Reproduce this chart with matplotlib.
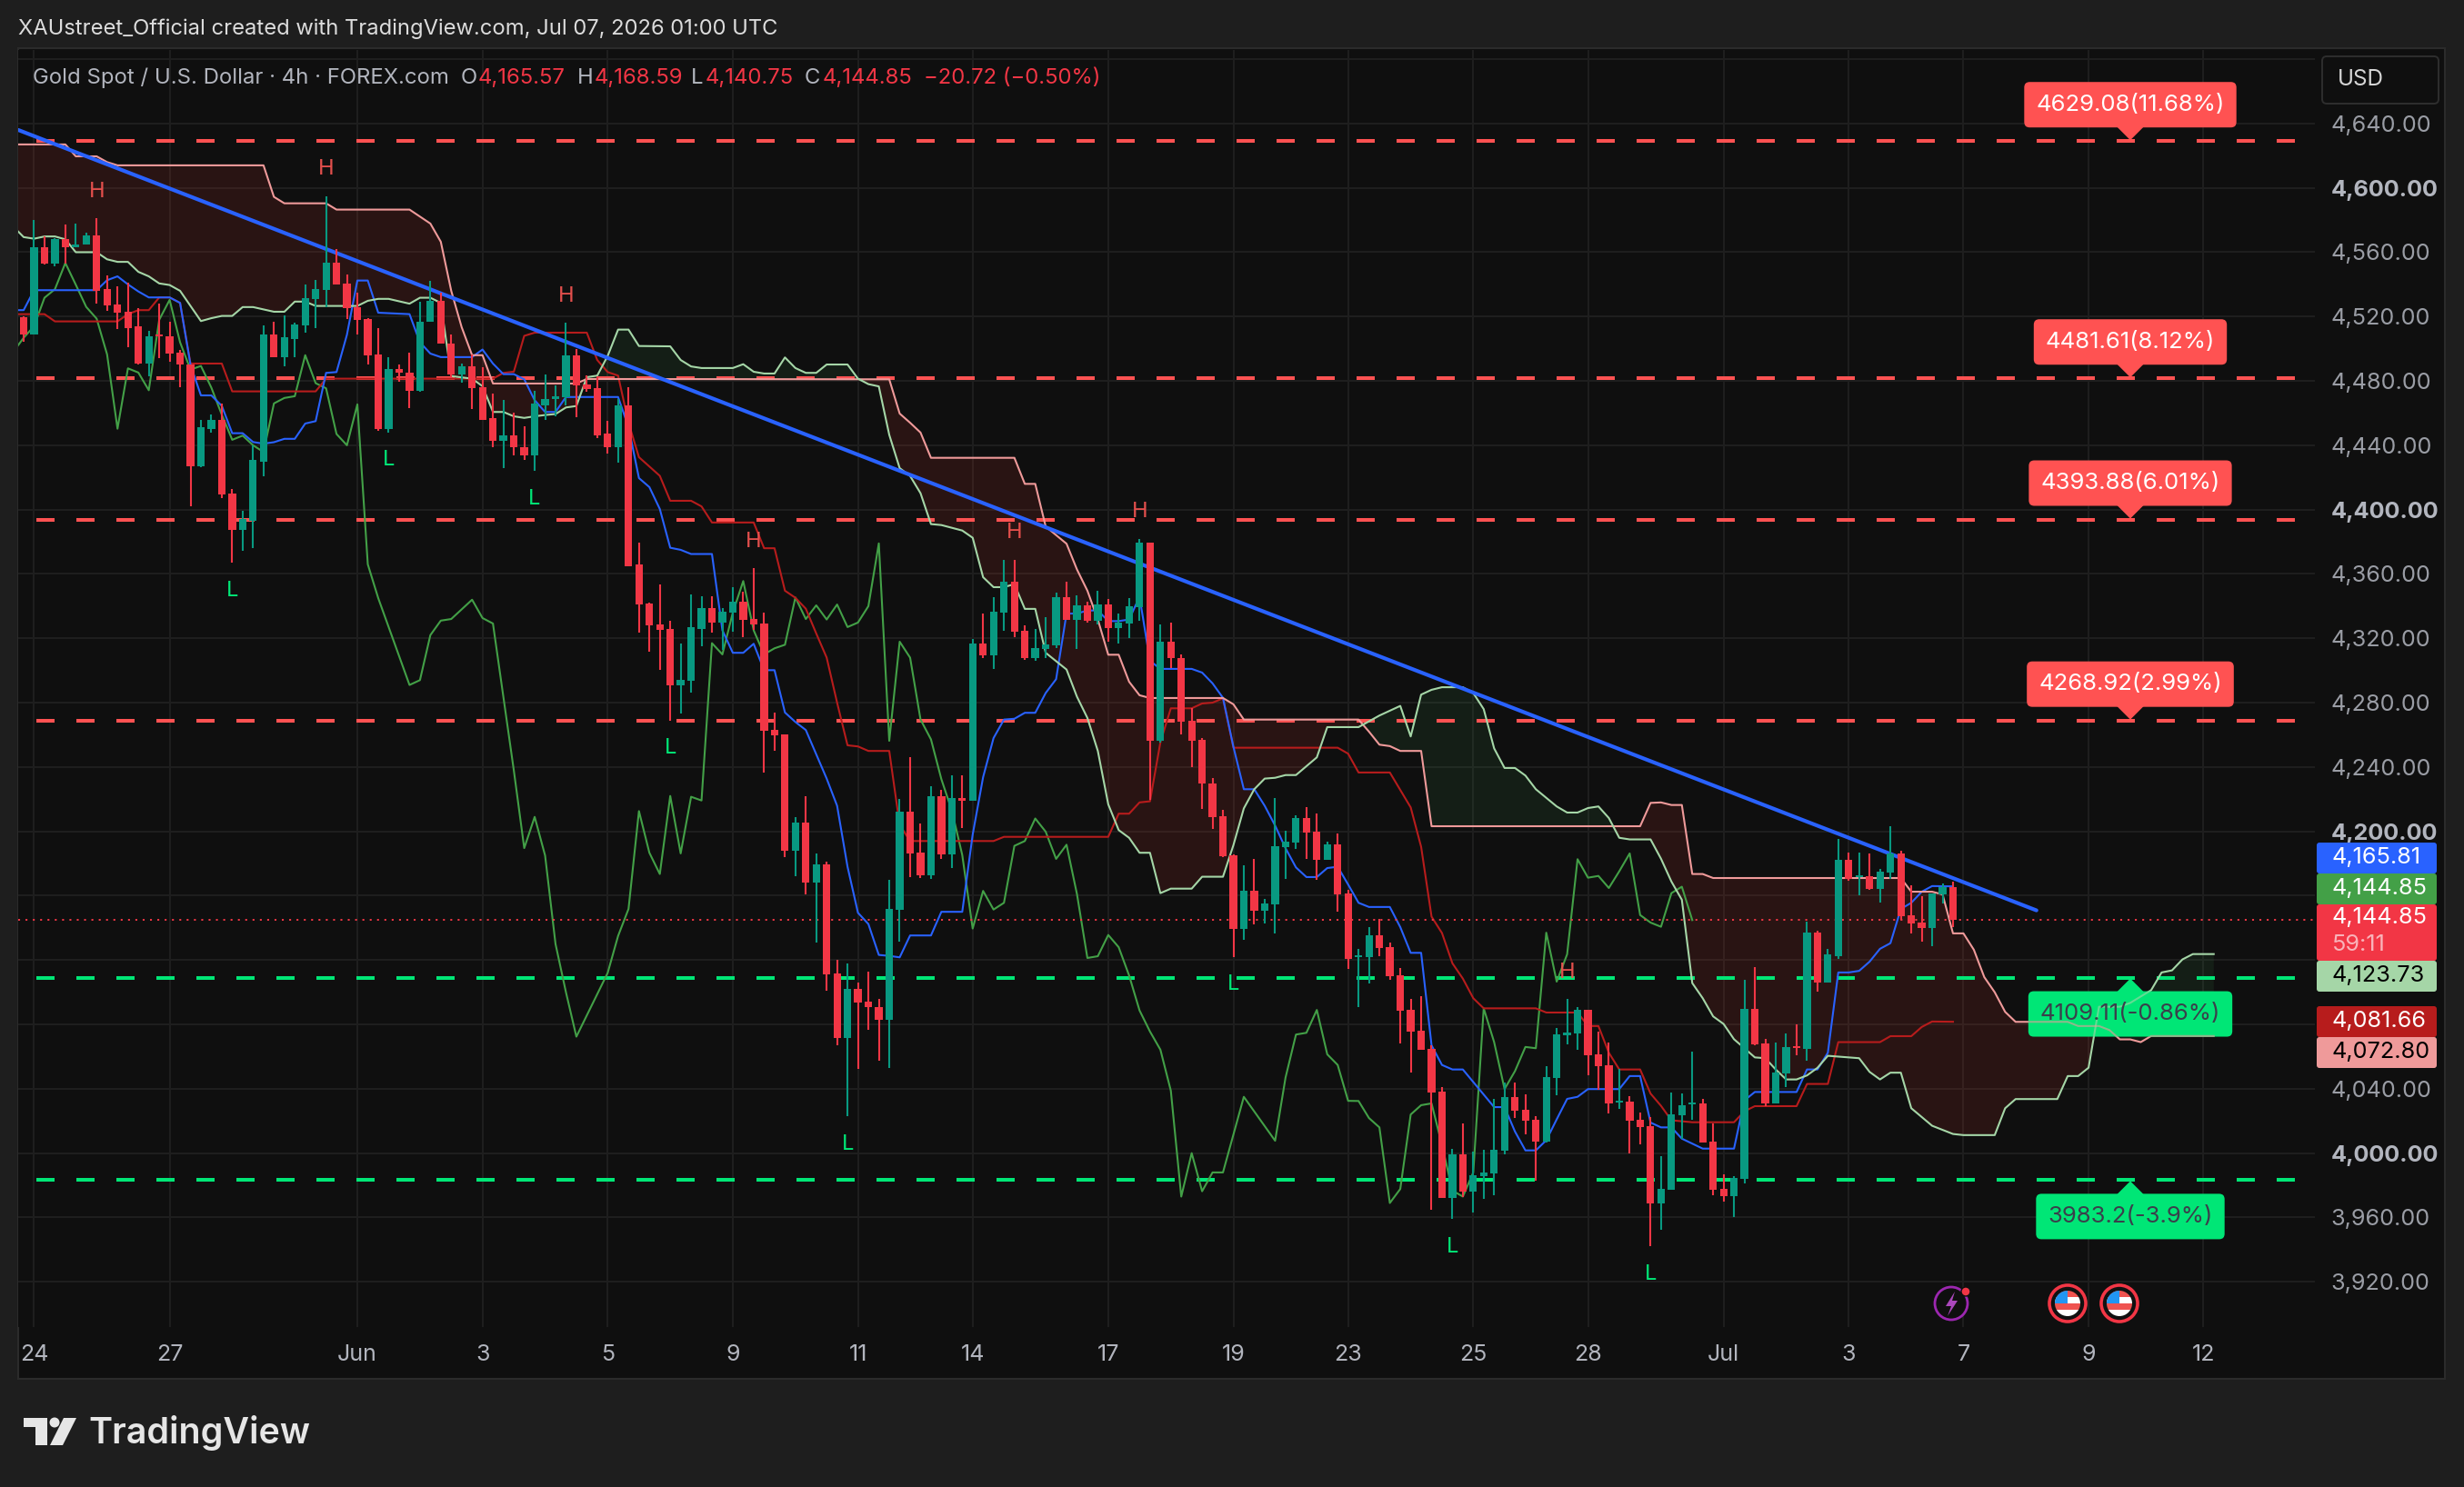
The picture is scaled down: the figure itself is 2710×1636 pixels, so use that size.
#!/usr/bin/env python3
# XAU/USD 4h candles with Ichimoku lines, trendline and price levels

import numpy as np
import matplotlib
matplotlib.use('Agg')
import matplotlib.pyplot as plt
from matplotlib.lines import Line2D
from matplotlib.patches import Circle, FancyBboxPatch, Polygon, Rectangle
from matplotlib.transforms import Affine2D

W, H = 2710, 1636

opens = [4519.4,4509,4563,4553,4568,4563,4565,4570.5,4537,4527.5,
         4523,4514,4491,4509,4508,4497.6,4490,4427,4450,4456,
         4410,4387.5,4393,4430,4509,4495,4506,4514.5,4531,4536.6,
         4553.5,4540.5,4526,4518.5,4496.5,4450,4487.5,4485,4474,4517,
         4530,4503,4484,4489,4476,4457,4443,4446,4439,4434,
         4465,4469,4470,4496,4478,4475.6,4447,4439,4465,4366,
         4341.6,4328.7,4326,4291,4293.6,4326,4339,4330,4336,4343,
         4332,4329,4263,4260,4188,4205.5,4168,4179.5,4111.7,4071.6,
         4102,4094,4091,4083,4151,4212,4187,4172.7,4222,4185.7,
         4221,4219,4316.8,4309.5,4336,4355,4324.7,4308,4313.4,4315.7,
         4345.6,4331.5,4340.5,4331,4341,4326.4,4329,4339.4,4379.5,4256.4,
         4318,4308,4268.8,4257,4230,4209.4,4185,4139.4,4163,4150.7,
         4154.6,4190,4193,4208.3,4199.8,4182.3,4192,4161.4,4122,4122,
         4135.4,4128,4110.6,4089,4076,4064.8,4038,3972,3999,3976,
         3985.7,3987.4,4001.5,4034.9,4027,4020.7,4007,4046.7,4073,4074.4,
         4089,4061.4,4054.6,4031.5,4032,4020.7,4016.8,3968.8,3977,4023.6,
         4030.3,4030.9,4007,3977.8,3973.3,3984,4089.7,4068,4030.9,4049.5,
         4066.5,4064.8,4137,4106,4122.4,4182.3,4171.8,4172,4164,4174.4,
         4186.3,4147.9,4143.3,4140,4160.9,4165.57]
highs = [4520.2,4580,4570,4569,4577,4578,4572,4581,4545.5,4539,
         4541,4525,4511,4528,4517,4499,4490,4456,4459,4466,
         4413,4399,4440,4514.5,4517,4521,4516,4540,4543,4595,
         4562,4546,4535,4519,4513,4495,4490,4497.6,4529,4542,
         4535,4509,4491,4496.5,4488.5,4472,4468,4460,4452,4474,
         4484,4477,4516,4500,4483.5,4483,4455,4469,4476,4379.5,
         4342,4353.5,4331,4317,4347,4346,4346,4339,4352,4349,
         4363.7,4336,4274,4260,4209,4222,4186,4181,4120,4118,
         4106,4113,4096,4170,4220,4246,4205,4228,4225.8,4235,
         4235,4319.6,4335.4,4345.6,4368.8,4369,4328,4325.8,4333,4348.4,
         4355,4346.7,4342.8,4349.6,4344.5,4335.4,4345,4382,4379.5,4328.7,
         4329.8,4310,4276.7,4258,4233,4213.4,4185.7,4179,4183,4158,
         4220.7,4200.4,4210,4215,4211,4193.6,4198.7,4163.7,4127,4140.5,
         4145.6,4131,4115,4096,4097.6,4067,4041,4002.7,4018.5,4001,
         4002,4033.7,4043.9,4043.9,4036.6,4023,4054,4077.8,4096,4090.8,
         4089,4075.5,4068.8,4052.4,4035.4,4025,4022.4,3998,4037.7,4037,
         4063,4033.7,4018.5,3986.9,3985.7,4107.7,4115.6,4071,4068.8,4074.4,
         4080,4143.9,4138,4127,4195.3,4186.8,4186.8,4186.3,4176.7,4203,
         4188,4166.5,4159.7,4161.4,4167.6,4168.59]
lows = [4504.4,4509,4552.6,4551,4553,4563,4565,4528,4523.6,4512,
        4501,4490,4483,4494,4492,4476,4402,4426.5,4448,4407,
        4367,4374.5,4376,4421,4495,4489,4495,4510,4513,4526,
        4540,4518.5,4509,4490,4449,4448,4479.5,4463,4473,4517,
        4503,4482,4479,4462.6,4456,4439,4426,4434,4431,4424,
        4456,4458,4465,4457.5,4473,4444.5,4435,4429,4365,4323.6,
        4311.7,4300.4,4269,4273,4286,4315,4323.6,4313,4324,4321,
        4325,4236.6,4250,4184,4172,4161,4131,4101,4067,4023,
        4052.4,4076.7,4057.5,4053,4131.5,4171.6,4171,4170.5,4183,4177,
        4202,4219,4307.8,4301,4324.7,4320.8,4306.6,4306,4307.8,4314,
        4331.5,4313.4,4329.8,4328.7,4318,4316.8,4320,4331,4219.6,4255,
        4301.5,4260,4240,4214,4201.5,4184,4122,4132.6,4142,4142.8,
        4136.6,4170.5,4189,4183,4170,4182.3,4150,4114.5,4090.8,4105.5,
        4122.4,4107.8,4068,4050,4064,3965,3972,3959,3972.7,3963,
        3971.6,3973.9,3999,4021.9,4011.7,3983,4006.6,4036,4067.6,4064,
        4048.4,4039.4,4024.7,4027.5,3999.8,4005.5,3942,3952.4,3977,4008.9,
        4020.7,4006.6,3973.9,3969.9,3960,3981,4067,4029,4030.9,4041,
        4060.8,4057.7,4100.4,4106,4121,4169.3,4160,4163.7,4155.8,4170.5,
        4145,4136.6,4131.5,4128.6,4155,4140.75]
closes = [4509,4563,4553,4568,4563,4565,4570.5,4536,4527,4522.5,
          4513,4491,4508,4508,4497,4490,4427,4451,4456,4409.5,
          4387.5,4394,4431,4509,4495,4507,4515,4531.5,4537,4553.5,
          4540,4525,4518,4496,4450,4487.5,4485,4474,4517,4530,
          4503,4484,4489,4475.6,4456,4443,4446,4439,4434,4466,
          4469,4470.5,4496,4477,4475,4446,4439,4465,4365,4341,
          4328,4325,4291,4294,4327,4339,4330,4336.6,4343,4331.5,
          4328.7,4262.6,4259.7,4188,4205.5,4168,4179.5,4111,4071.6,4102,
          4093.6,4090.8,4083,4151.8,4212,4186,4172.7,4222,4185.7,4221,
          4219,4316.8,4309.5,4336.6,4355,4324,4308,4314,4316,4345.6,
          4331.5,4340.5,4331,4341,4326.4,4329.8,4340,4379.5,4256.4,4318,
          4307.8,4268,4256.4,4229.8,4209,4184.6,4139.4,4163,4150.7,4155,
          4190.8,4193.6,4208.3,4199.3,4182.3,4192,4161,4120.8,4123,4135.4,
          4127.5,4110,4088.6,4075.5,4064,4037.7,3972,3999,3976,3986,
          3988,4002,4034.9,4026.4,4020,4007,4047,4073.8,4075,4089,
          4060.8,4054,4030.9,4032.6,4020,4016,3968.8,3977.8,4024,4029.8,
          4031.5,4006.6,3977,3973.3,3984.6,4089.7,4067.6,4030.9,4050,4066,
          4065.6,4137,4106,4123.6,4182.3,4170.5,4172.5,4164,4175,4186.3,
          4147.3,4142.8,4140,4161.4,4165.4,4144.85]

# conversion line
tenkan_bars = [-1,0,1,7,8,9,10,11,12,14,15,16,17,18,19,20,21,22,23,24,25,26,27,28,29,30,31,32,33,34,37,38,39,40,43,44,45,46,47,48,49,50,51,52,57,58,59,60,61,62,63,64,66,67,68,69,70,71,72,73,74,75,76,77,78,79,80,81,82,83,84,85,87,88,90,91,92,93,94,95,96,97,98,99,100,101,102,103,104,105,106,107,108,109,112,113,114,115,116,117,118,119,120,121,122,123,124,125,126,127,128,129,131,132,133,134,135,136,137,138,141,142,143,144,145,146,147,148,149,150,153,154,155,156,157,158,159,160,161,164,165,166,170,171,172,173,174,175,176,177,178,179,180,181,182,183,185]
tenkan_vals = [4524,4524,4536.4,4536.4,4542.6,4545,4540,4535.6,4531.9,4531.9,4528.5,4490,4471,4471,4464.5,4447.5,4447.5,4442,4441,4441.9,4444,4444,4453.5,4455,4485,4485.5,4508.7,4542.4,4542.4,4522.4,4521.5,4504,4497,4494.8,4494.8,4499.5,4490.8,4484.2,4484.2,4481,4468,4460.7,4460.7,4470,4470,4451.3,4419.6,4414,4400.4,4376.3,4375,4372.4,4372.4,4325,4311,4311,4316.6,4300.2,4300.2,4273.9,4268,4263,4247.9,4232.8,4215.9,4178,4149.4,4142.4,4123.2,4122.6,4121.7,4135.3,4135.3,4150,4150,4198,4233.7,4258,4269.5,4270,4273.7,4273.7,4286,4294.6,4335.4,4335.4,4337.3,4337.3,4330.7,4330.7,4331.7,4345.8,4306,4301,4301,4298.7,4292,4283,4252.6,4226.2,4226.2,4215.9,4203.6,4189.5,4177.6,4171.6,4171.6,4177.2,4178,4167,4155.6,4153,4153,4140.5,4124.5,4124.5,4067,4054.8,4052,4052,4028.6,4028.6,4013.4,4001.7,4001.7,4008,4021,4033.7,4035,4039.8,4039.8,4047.9,4047.9,4019,4016,4016,4009,4005.9,4002.8,4002.8,4032.8,4038,4038,4052,4052,4062.4,4112.3,4112.3,4113.3,4119,4127,4130.5,4151.8,4155.6,4162.5,4166,4165.81]

# base line
kijun_bars = [-1,2,3,9,10,11,12,13,14,15,16,19,20,28,29,45,46,47,48,49,54,55,56,57,58,59,60,61,62,64,65,66,70,71,72,73,74,75,76,77,78,79,80,81,83,84,85,93,94,104,105,106,107,108,109,110,112,113,114,115,116,126,127,128,131,133,134,135,136,137,138,139,140,145,146,149,150,151,152,153,155,156,157,158,160,164,165,166,170,171,173,174,178,179,181,182,183,185]
kijun_vals = [4521.5,4521.5,4517,4517,4521.5,4524,4524,4531.9,4531.9,4528.5,4490.8,4490.8,4473.5,4473.5,4481.4,4481.4,4485,4485.7,4508,4510,4510,4493,4485.5,4483.3,4454,4432.6,4426.8,4421,4405.5,4405.5,4402,4392,4392,4376,4376,4349.6,4345.2,4338.4,4323,4308,4280,4253.5,4252.8,4250,4250,4204,4194,4194,4196.6,4196.6,4211,4211,4218,4218.7,4255.4,4276.5,4276.5,4279.5,4280,4282.7,4252,4252,4248.3,4236.6,4236.6,4214.9,4190.4,4147,4136.8,4118,4108.5,4096.3,4090,4090,4087.4,4087.4,4079,4079,4062.4,4052,4052,4037,4029.4,4020.4,4019.2,4019.2,4026,4029.2,4029.2,4043,4043,4069,4069,4072.7,4072.7,4078.4,4081.8,4081.66]

# lagging line, shifted back 25 bars
chikou_bars = [-1,0,1,2,3,4,5,6,7,8,9,10,11,12,13,14,15,16,17,18,19,20,21,22,23,24,25,26,27,28,29,30,31,32,33,34,35,37,38,39,40,41,43,44,45,47,48,49,50,51,52,53,56,57,58,59,60,61,62,63,64,65,66,67,68,69,70,71,72,73,74,75,76,77,78,79,80,81,82,83,84,85,86,87,88,89,90,91,92,93,94,95,96,97,98,99,100,101,102,103,104,105,106,107,108,109,110,111,112,113,114,115,117,120,121,122,123,124,125,126,127,128,129,130,131,132,133,134,135,136,137,138,139,140,141,142,143,144,145,146,147,148,149,150,151,152,153,154,155,156,157,158,159,160]
chikou_vals = [4498,4506.8,4514,4531.7,4537,4553.3,4539.8,4526,4518.7,4496.5,4450.3,4487.8,4485.2,4474.2,4518,4530.4,4504,4487,4489.3,4475.8,4459,4443.4,4446,4440,4435.8,4466,4469.4,4470.5,4496,4478.6,4475.4,4447,4440,4465.4,4366,4345,4327,4291,4294,4322,4331,4332,4344,4332.6,4329.2,4238,4189.6,4209,4185,4130,4100,4072.4,4112,4135,4151.8,4212.6,4186.7,4173.5,4222,4186.3,4221.5,4219.2,4317,4310,4336,4355.6,4325,4310,4313.8,4316,4345.4,4332,4340.5,4331.7,4341,4327,4329.8,4340,4379,4256.3,4317.9,4308,4269.5,4257.2,4232.4,4213,4185.3,4139.6,4163,4151.4,4155.6,4191,4194,4208,4199.8,4182.9,4191.7,4161,4121.3,4122.4,4135.6,4128,4110.4,4088.7,4075.6,4064.3,4038.8,3973,4000,3976.3,3988,3988,4035,4007.7,4047,4073.7,4074.8,4089,4061.4,4054.8,4032.5,4032.4,4021.8,4016,3969,3977.7,4024,4029.8,4030.9,4005,3976.7,3973,3988,4090,4069,4039.8,4051,4066,4065.2,4137,4106.6,4123.6,4182.7,4171.2,4172.3,4164.8,4175.2,4186.3,4148,4143.3,4140.7,4161.6,4165.6,4144.85]

# leading spans
span_a_bars = [-1,0,1,2,3,4,5,7,8,9,10,11,12,13,14,15,17,18,19,20,21,22,24,25,26,27,28,32,33,34,35,37,38,39,40,41,43,44,45,46,47,48,49,50,51,52,53,54,55,56,57,58,59,62,63,64,65,68,69,70,71,72,73,74,75,76,77,79,80,81,82,83,84,85,86,87,88,89,90,91,92,93,94,95,96,97,98,100,101,102,103,104,105,106,107,108,109,110,112,113,115,116,117,118,119,120,121,122,124,125,128,130,132,133,134,135,136,138,139,140,141,142,143,144,145,147,148,149,150,151,152,153,154,156,157,158,159,160,161,162,163,164,165,166,167,168,169,170,171,172,173,176,177,178,179,180,181,183,185,186,189,190,191,195,196,197,198,199,201,202,204,205,206,207,208,210]
span_a_vals = [4576,4569.4,4568.4,4569.8,4569.8,4568,4560,4560,4555.6,4554,4554,4547.8,4545,4540.6,4539.6,4536,4517.2,4519,4520.4,4520.4,4525.9,4525.9,4523,4523,4529.3,4529.3,4526.6,4526.6,4529.8,4531,4531,4528,4531.7,4531.7,4528.5,4483,4481.4,4476.7,4460.7,4460.7,4458,4457,4458,4458.8,4459.4,4463.5,4464.4,4482.3,4483.3,4495.5,4511.9,4511.9,4501.7,4501.5,4493,4489,4488,4488,4490.4,4485.7,4484.6,4484.6,4494.6,4488,4485,4485,4490.2,4490.2,4481.4,4478,4476.6,4446.5,4425.8,4420.9,4410.2,4391,4390.4,4388.7,4387,4382.5,4358,4351.8,4351.8,4353.7,4338.3,4338.3,4311,4300.6,4283.7,4270.5,4250,4216.8,4200.8,4196,4186.7,4186.7,4161.6,4164.4,4164.4,4171.8,4171.8,4191.4,4214.3,4226.2,4232.8,4233.3,4235,4235,4246,4264.8,4264.8,4272,4278,4259,4285,4288,4289.6,4289.6,4286,4276,4251.6,4239.4,4239.4,4234.7,4226.2,4215.5,4211.7,4211.7,4214.5,4215.5,4208.3,4196,4195,4195,4183,4168.8,4157.5,4105.7,4096.3,4085,4080.3,4070.8,4065.2,4059.5,4059,4052,4045.8,4045.8,4048.3,4053,4060.5,4059,4050.5,4045.8,4050,4050,4027.9,4017,4011.9,4011.2,4011.2,4027.9,4033.6,4033.6,4047.9,4047.9,4053.1,4091,4091,4093.4,4101.3,4112.3,4113.6,4120.4,4123.73,4123.73]
span_b_bars = [-1,4,5,7,8,9,23,24,25,29,30,37,39,40,41,42,43,44,45,53,54,83,84,85,86,87,95,96,97,98,100,101,102,103,104,105,106,107,108,115,116,117,128,129,130,131,132,134,135,155,156,157,158,159,160,161,162,180,181,183,184,185,186,187,188,189,190,191,196,197,199,200,201,202,203,204,210]
span_b_vals = [4627,4627,4619.6,4619.6,4616,4614,4614,4594.4,4590.4,4590.4,4586.5,4586.5,4577.8,4566.5,4536,4513.4,4496,4496,4478.4,4478.4,4481.2,4481,4459.7,4454,4447.9,4432.2,4432.2,4416,4416,4389.5,4378.8,4362.8,4349.6,4331.7,4309.8,4309.8,4293,4284.6,4282.9,4282.9,4279,4269.5,4269.5,4262,4253.9,4253,4250,4250,4203.2,4203.2,4217.7,4218,4216.4,4216.4,4173.5,4173.5,4171,4171,4162.5,4162.5,4160.8,4136.6,4136.6,4126.4,4109.4,4100,4087.8,4081.6,4081.6,4079,4079,4076.5,4070.7,4070.7,4069,4072.8,4072.8]

trend_bars = [-0.52, 193]
trend_vals = [4636, 4150.9]

last_price = 4144.85

# target levels: price, label
red_levels = [4629.08, 4481.61, 4393.88, 4268.92]
red_labels = ['4629.08(11.68%)', '4481.61(8.12%)', '4393.88(6.01%)', '4268.92(2.99%)']
green_levels = [4109.11, 3983.2]
green_labels = ['4109.11(-0.86%)', '3983.2(-3.9%)']

# pivot markers sit on candle extremes
high_pivots = [7, 29, 52, 70, 95, 107, 148]
low_pivots = [20, 35, 49, 62, 79, 116, 137, 156]

price_ticks = list(range(3920, 4681, 40))
hidden_prices = [4080, 4120, 4160, 4680]
bold_prices = [4000, 4200, 4400, 4600]
date_ticks = [1, 14, 32, 44, 56, 68, 80, 91, 104, 116, 127, 139, 150, 163, 175, 186, 198, 209]
date_labels = ['24', '27', 'Jun', '3', '5', '9', '11', '14', '17', '19', '23', '25', '28', 'Jul', '3', '7', '9', '12']

BG_OUT = '#1e1e1e'
BG = '#0f0f0f'
GRID = '#1f1f1f'
UP = '#089981'
DOWN = '#f23645'
LEVEL_RED = '#ff5252'
LEVEL_GREEN = '#00e676'
TEXT = '#b2b5be'

plt.rcParams['font.family'] = ['Inter', 'DejaVu Sans']
plt.rcParams['lines.scale_dashes'] = False

fig = plt.figure(figsize=(W / 100, H / 100), dpi=100, facecolor=BG_OUT)

# pixel coordinates measured from the top left of the figure
PX = Affine2D().scale(1, -1).translate(0, H)

panel = Rectangle((20, 53), 2669, 1464, transform=PX, facecolor=BG, edgecolor='#2b2b2b', linewidth=1.5, zorder=-5)
fig.add_artist(panel)

ax = fig.add_axes([20 / W, 1 - 1460 / H, 2526 / W, 1405 / H], zorder=1)
ax.set_facecolor(BG)
ax.set_xlim(-0.523, 219.7)
ax.set_ylim(3891.9, 4685.7)
for side in ax.spines.values():
    side.set_visible(False)

ax.set_xticks(date_ticks)
ax.set_xticklabels(date_labels, fontsize=18, color=TEXT)
ax.set_yticks(price_ticks)
ax.yaxis.tick_right()
ax.set_yticklabels(['' if p in hidden_prices else f'{p:,.2f}' for p in price_ticks], fontsize=18.2, color='#9a9da5')
for lab, p in zip(ax.get_yticklabels(), price_ticks):
    if p in bold_prices:
        lab.set_fontweight('bold')
        lab.set_color(TEXT)
ax.tick_params(axis='x', length=0, pad=14)
ax.tick_params(axis='y', length=0, pad=12.5)
ax.grid(True, color=GRID, linewidth=1.4, zorder=0)
ax.set_axisbelow(True)

# cloud between the two leading spans
cloud_x = np.arange(-1, 210.01, 0.25)
cloud_a = np.interp(cloud_x, span_a_bars, span_a_vals)
cloud_b = np.interp(cloud_x, span_b_bars, span_b_vals)
ax.fill_between(cloud_x, cloud_a, cloud_b, where=cloud_a >= cloud_b, interpolate=True, color='#377a44', alpha=0.15, linewidth=0, zorder=1)
ax.fill_between(cloud_x, cloud_a, cloud_b, where=cloud_a < cloud_b, interpolate=True, color='#c3372a', alpha=0.15, linewidth=0, zorder=1)

# dashed target levels
level_dash = (0, (14.4, 17.28))
for price in red_levels:
    ax.plot([1.22, 217.8], [price, price], color=LEVEL_RED, linewidth=2.9, linestyle=level_dash, dash_capstyle='butt', zorder=2)
for price in green_levels:
    ax.plot([1.22, 217.8], [price, price], color=LEVEL_GREEN, linewidth=2.9, linestyle=level_dash, dash_capstyle='butt', zorder=2)

ax.plot(chikou_bars, chikou_vals, color='#43a047', linewidth=1.5, zorder=3)
ax.plot(kijun_bars, kijun_vals, color='#b71c1c', linewidth=1.5, zorder=3)
ax.plot(tenkan_bars, tenkan_vals, color='#2962ff', linewidth=1.5, zorder=3)
ax.plot(span_b_bars, span_b_vals, color='#ef9a9a', linewidth=1.5, zorder=3)
ax.plot(span_a_bars, span_a_vals, color='#a5d6a7', linewidth=1.5, zorder=3)

ax.plot(trend_bars, trend_vals, color='#2962ff', linewidth=3, solid_capstyle='round', zorder=3.5)

ax.axhline(last_price, color=DOWN, linewidth=1.4, linestyle=(0, (1.5, 4.3)), zorder=3)

# candles
bars = np.arange(len(closes))
opens_a = np.array(opens)
closes_a = np.array(closes)
colors = [UP if c >= o else DOWN for o, c in zip(opens, closes)]
ax.vlines(bars, lows, highs, colors=colors, linewidth=1.5, zorder=5)
ax.bar(bars, np.abs(closes_a - opens_a), bottom=np.minimum(opens_a, closes_a), width=0.72, color=colors, linewidth=0, zorder=5.1)

# H / L pivot letters
for b in high_pivots:
    ax.annotate('H', (b, highs[b]), xytext=(0, 21), textcoords='offset points', ha='center', va='center',
                color='#ef5350', fontsize=17, alpha=0.95, zorder=4)
for b in low_pivots:
    ax.annotate('L', (b, lows[b]), xytext=(0, -22), textcoords='offset points', ha='center', va='center',
                color=LEVEL_GREEN, fontsize=17, zorder=4)

renderer = fig.canvas.get_renderer()


def add_box(x0, y0, x1, y1, color, radius=6, alpha=1.0, zorder=6):
    box = FancyBboxPatch((x0, y0), x1 - x0, y1 - y0, boxstyle=f'round,pad=0,rounding_size={radius}',
                         transform=PX, facecolor=color, edgecolor='none', alpha=alpha, zorder=zorder)
    fig.add_artist(box)
    return box


def price_y(price):
    return H - ax.transData.transform((0, price))[1]


# level callouts with a small arrow towards the line
LABEL_X = 2343
for price, label in zip(red_levels, red_labels):
    ly = price_y(price)
    t = fig.text(LABEL_X, ly - 40, label, transform=PX, ha='center', va='center', color='white', fontsize=18.5, zorder=7)
    half = t.get_window_extent(renderer).width / 2 + 13
    add_box(LABEL_X - half, ly - 65, LABEL_X + half, ly - 15, LEVEL_RED)
    fig.add_artist(Polygon([(LABEL_X - 15, ly - 16), (LABEL_X + 15, ly - 16), (LABEL_X, ly - 1)], closed=True,
                           transform=PX, facecolor=LEVEL_RED, edgecolor='none', zorder=6))
for price, label in zip(green_levels, green_labels):
    ly = price_y(price)
    t = fig.text(LABEL_X, ly + 40, label, transform=PX, ha='center', va='center', color='#3a3f4b', fontsize=18.5, zorder=7)
    half = t.get_window_extent(renderer).width / 2 + 13
    box = add_box(LABEL_X - half, ly + 15, LABEL_X + half, ly + 65, LEVEL_GREEN)
    fig.add_artist(Polygon([(LABEL_X - 15, ly + 16), (LABEL_X + 15, ly + 16), (LABEL_X, ly + 1)], closed=True,
                           transform=PX, facecolor=LEVEL_GREEN, edgecolor='none', zorder=6))
    # the spans stay faintly visible through the callout
    for sb, sv, color in [(span_a_bars, span_a_vals, '#a5d6a7'), (span_b_bars, span_b_vals, '#ef9a9a')]:
        ghost = Line2D(sb, sv, color=color, linewidth=1.5, alpha=0.6, transform=ax.transData, zorder=6.5)
        fig.add_artist(ghost)
        ghost.set_clip_path(box)

# last values on the price scale
scale_tags = [(927, 961, '#2962ff', '4,165.81', 'white'),
              (961, 995, '#43a047', '4,144.85', 'white'),
              (995, 1057, DOWN, '4,144.85', 'white'),
              (1057, 1091, '#a5d6a7', '4,123.73', 'black'),
              (1107, 1141, '#b71c1c', '4,081.66', 'white'),
              (1141, 1175, '#ef9a9a', '4,072.80', 'black')]
for y0, y1, color, value, text_color in scale_tags:
    add_box(2548, y0, 2680, y1, color, radius=3)
    ty = (y0 + y1) / 2 if y1 - y0 < 40 else y0 + 15
    fig.text(2565, ty, value, transform=PX, ha='left', va='center', color=text_color, fontsize=18.2, zorder=7)
fig.text(2565, 1040, '59:11', transform=PX, ha='left', va='center', color='#f9b3ba', fontsize=18.2, zorder=7)

# currency button
fig.add_artist(FancyBboxPatch((2554, 62), 128, 52, boxstyle='round,pad=0,rounding_size=5', transform=PX,
                              facecolor=BG, edgecolor='#2e2e2e', linewidth=1.4, zorder=6))
fig.text(2596, 87, 'USD', transform=PX, ha='center', va='center', color='#d6d6d6', fontsize=17.5, zorder=7)

# header and symbol line
fig.text(20, 32, 'XAUstreet_Official created with TradingView.com, Jul 07, 2026 01:00 UTC', transform=PX,
         ha='left', va='center', color='#dcdcdc', fontsize=17.1)
fig.text(36, 86, 'Gold Spot / U.S. Dollar · 4h · FOREX.com', transform=PX, ha='left', va='center', color=TEXT, fontsize=17.2, zorder=7)
symbol_parts = [(507, 'O', TEXT), (526, '4,165.57', DOWN), (635, 'H', TEXT), (654, '4,168.59', DOWN),
                (760, 'L', TEXT), (776, '4,140.75', DOWN), (885, 'C', TEXT), (905, '4,144.85', DOWN),
                (1016, '−20.72 (−0.50%)', DOWN)]
for px_x, part, color in symbol_parts:
    fig.text(px_x, 86, part, transform=PX, ha='left', va='center', color=color, fontsize=17.2, zorder=7)

# event markers along the bottom
fig.add_artist(Circle((2146, 1434), 18, transform=PX, facecolor=BG, edgecolor='#9c27b0', linewidth=2, zorder=6))
fig.add_artist(Polygon([(2150, 1421), (2140, 1437), (2146, 1437), (2142, 1448), (2153, 1431), (2147, 1431)], closed=True,
                       transform=PX, facecolor='#ab47bc', edgecolor='none', zorder=7))
fig.add_artist(Circle((2162, 1421), 5, transform=PX, facecolor=DOWN, edgecolor=BG, linewidth=1, zorder=8))

for cx in [2274, 2331]:
    fig.add_artist(Circle((cx, 1434), 20, transform=PX, facecolor='#111111', edgecolor=DOWN, linewidth=2.6, zorder=6))
    clip = Circle((cx, 1434), 14, transform=PX)
    stripes = [(1420, 7, '#ef5350'), (1427, 7, 'white'), (1434, 7, '#ef5350'), (1441, 7, 'white'), (1448, 7, '#ef5350')]
    for sy, sh, color in stripes:
        stripe = Rectangle((cx - 14, sy), 28, sh, transform=PX, facecolor=color, edgecolor='none', zorder=7)
        fig.add_artist(stripe)
        stripe.set_clip_path(clip)
    canton = Rectangle((cx - 14, 1420), 14, 14, transform=PX, facecolor='#2196f3', edgecolor='none', zorder=7.1)
    fig.add_artist(canton)
    canton.set_clip_path(clip)

# footer logo
logo_color = '#e6e6e6'
fig.add_artist(Polygon([(26, 1560), (52, 1560), (52, 1590), (39, 1590), (39, 1570), (26, 1570)], closed=True,
                       transform=PX, facecolor=logo_color, edgecolor='none', zorder=7))
fig.add_artist(Circle((60, 1565), 5.5, transform=PX, facecolor=logo_color, edgecolor='none', zorder=7))
fig.add_artist(Polygon([(70, 1560), (84, 1560), (69, 1590), (55, 1590)], closed=True,
                       transform=PX, facecolor=logo_color, edgecolor='none', zorder=7))
fig.text(97, 1576, 'TradingView', transform=PX, ha='left', va='center', color=logo_color, fontsize=28.4, fontweight='semibold')

fig.savefig('out.png', dpi=100, facecolor=BG_OUT)
